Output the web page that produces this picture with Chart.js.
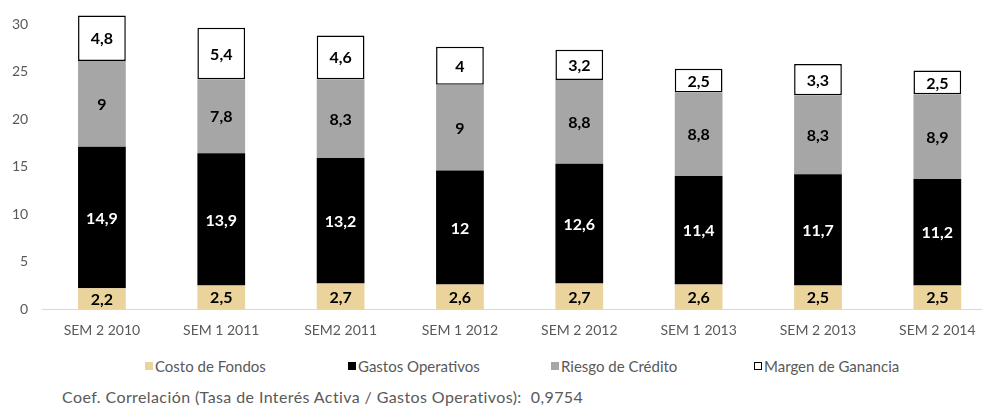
<!DOCTYPE html>
<html>
<head>
<meta charset="utf-8">
<script src="https://cdn.jsdelivr.net/npm/chart.js@4.4.1/dist/chart.umd.min.js"></script>
<style>
  html, body { margin: 0; padding: 0; background: #fff; overflow: hidden; width: 982px; height: 408px; }
  #wrap { position: absolute; left: 0; top: 0; width: 1040px; height: 344px; }
  #legend { position: absolute; left: 145px; top: 357px; display: flex; font-family: Lato, "Open Sans", sans-serif; font-size: 15px; color: #595959; }
  #legend .item { width: 203px; display: flex; align-items: center; white-space: nowrap; }
  #legend .box { width: 8px; height: 8px; margin-right: 2px; box-sizing: border-box; }
  #note { position: absolute; left: 62px; top: 387px; font-family: Lato, "Open Sans", sans-serif; font-size: 16px; letter-spacing: 0.4px; color: #595959; white-space: pre; }
</style>
</head>
<body>
<div id="wrap"><canvas id="chart"></canvas></div>
<div id="legend"></div>
<div id="note"></div>
<script>
(function () {
    'use strict';

    // 数据
    var categories = ['SEM 2 2010', 'SEM 1 2011', 'SEM2 2011', 'SEM 1 2012', 'SEM 2 2012', 'SEM 1 2013', 'SEM 2 2013', 'SEM 2 2014'];
    var costoFondos = [2.2, 2.5, 2.7, 2.6, 2.7, 2.6, 2.5, 2.5];
    var gastosOperativos = [14.9, 13.9, 13.2, 12, 12.6, 11.4, 11.7, 11.2];
    var riesgoCredito = [9, 7.8, 8.3, 9, 8.8, 8.8, 8.3, 8.9];
    var margenGanancia = [4.8, 5.4, 4.6, 4, 3.2, 2.5, 3.3, 2.5];
    var yTicks = [0, 5, 10, 15, 20, 25, 30];
    var noteText = 'Coef. Correlación (Tasa de Interés Activa / Gastos Operativos):  0,9754';

    var FONT = 'Lato, "Open Sans", sans-serif';
    var GREY_TEXT = '#595959';

    var series = [
        { label: 'Costo de Fondos', data: costoFondos, fill: '#EBD39C', border: '#EBD39C', bw: 0, text: '#000' },
        { label: 'Gastos Operativos', data: gastosOperativos, fill: '#000000', border: '#000000', bw: 0, text: '#fff' },
        { label: 'Riesgo de Crédito', data: riesgoCredito, fill: '#A6A6A6', border: '#A6A6A6', bw: 0, text: '#000' },
        { label: 'Margen de Ganancia', data: margenGanancia, fill: '#FFFFFF', border: '#000000', bw: 1.5, text: '#000' }
    ];

    function fmt(v) {
        return String(v).replace('.', ',');
    }

    // 柱内数值标签
    var barLabels = {
        id: 'barLabels',
        afterDatasetsDraw: function (chart) {
            var ctx = chart.ctx;
            ctx.save();
            ctx.font = 'bold 16px ' + FONT;
            ctx.textAlign = 'center';
            ctx.textBaseline = 'middle';
            chart.data.datasets.forEach(function (ds, di) {
                var meta = chart.getDatasetMeta(di);
                meta.data.forEach(function (bar, i) {
                    var p = bar.getProps(['x', 'y', 'base'], true);
                    ctx.fillStyle = series[di].text;
                    ctx.fillText(fmt(ds.data[i]), p.x, (p.y + p.base) / 2 + 1);
                });
            });
            ctx.restore();
        }
    };

    var datasets = series.map(function (s) {
        return {
            label: s.label,
            data: s.data,
            backgroundColor: s.fill,
            borderColor: s.border,
            borderWidth: s.bw,
            borderSkipped: false,
            barPercentage: 0.4,
            categoryPercentage: 1,
            clip: false
        };
    });

    new Chart(document.getElementById('chart').getContext('2d'), {
        type: 'bar',
        data: { labels: categories, datasets: datasets },
        plugins: [barLabels],
        options: {
            responsive: true,
            maintainAspectRatio: false,
            animation: false,
            layout: { padding: { top: 24, left: 6, right: 43, bottom: 0 } },
            plugins: { legend: { display: false }, tooltip: { enabled: false } },
            scales: {
                x: {
                    stacked: true,
                    grid: { display: false },
                    border: { display: true, color: '#D9D9D9', width: 1 },
                    ticks: { color: GREY_TEXT, font: { family: FONT, size: 14 }, padding: 5, maxRotation: 0 }
                },
                y: {
                    stacked: true,
                    min: yTicks[0],
                    max: yTicks[yTicks.length - 1],
                    grid: { display: false },
                    border: { display: false },
                    afterBuildTicks: function (axis) {
                        axis.ticks = yTicks.map(function (v) { return { value: v }; });
                    },
                    ticks: { color: GREY_TEXT, font: { family: FONT, size: 14 }, padding: 6 }
                }
            }
        }
    });

    // 图例与注释
    var legend = document.getElementById('legend');
    series.forEach(function (s) {
        var item = document.createElement('div');
        item.className = 'item';
        var box = document.createElement('span');
        box.className = 'box';
        box.style.background = s.fill;
        if (s.bw) box.style.border = '1.5px solid ' + s.border;
        item.appendChild(box);
        item.appendChild(document.createTextNode(s.label));
        legend.appendChild(item);
    });
    document.getElementById('note').textContent = noteText;
})();
</script>
</body>
</html>
